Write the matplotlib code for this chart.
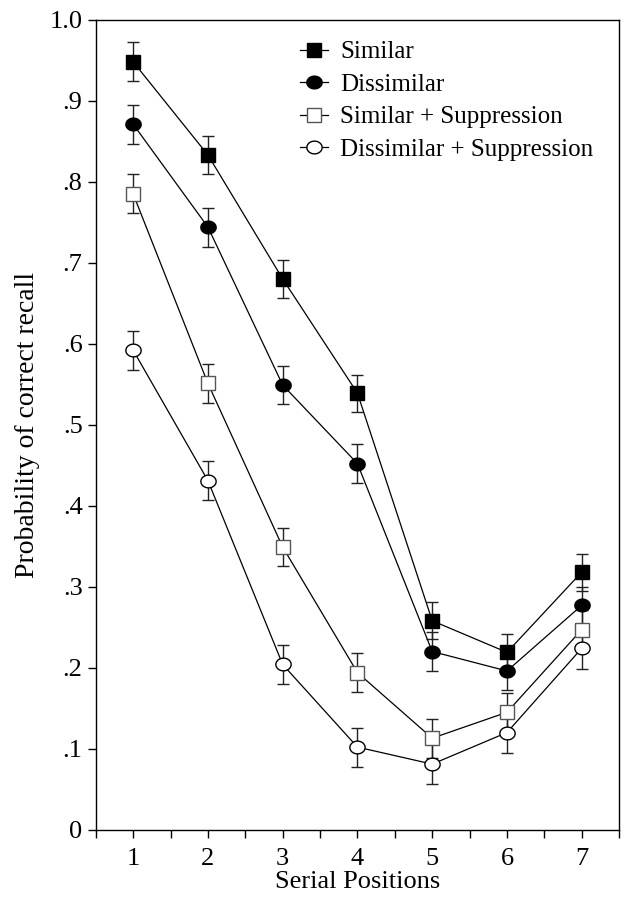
import numpy as np
import matplotlib
matplotlib.use("Agg")
import matplotlib.pyplot as plt
from matplotlib.path import Path
from matplotlib.ticker import MultipleLocator, FixedLocator

plt.rcParams['font.family'] = ['Liberation Serif', 'DejaVu Serif']
plt.rcParams['font.size'] = 18

positions = [1, 2, 3, 4, 5, 6, 7]

similar = [0.948, 0.833, 0.680, 0.539, 0.258, 0.219, 0.318]
dissimilar = [0.871, 0.744, 0.549, 0.452, 0.220, 0.196, 0.277]
similar_sup = [0.785, 0.551, 0.349, 0.194, 0.113, 0.145, 0.247]
dissimilar_sup = [0.592, 0.431, 0.204, 0.102, 0.081, 0.120, 0.224]

similar_err = [0.024, 0.023, 0.023, 0.023, 0.023, 0.023, 0.023]
dissimilar_err = [0.024, 0.024, 0.024, 0.024, 0.024, 0.024, 0.023]
similar_sup_err = [0.024, 0.024, 0.024, 0.024, 0.024, 0.024, 0.024]
dissimilar_sup_err = [0.024, 0.024, 0.024, 0.024, 0.025, 0.025, 0.025]

ytick_vals = [0, .1, .2, .3, .4, .5, .6, .7, .8, .9, 1.0]
ytick_labels = ['0', '.1', '.2', '.3', '.4', '.5', '.6', '.7', '.8', '.9', '1.0']

# slightly wide ellipse, the source picture is stretched sideways
t = np.linspace(0, 2 * np.pi, 60)
ellipse = Path(np.column_stack([1.2 * np.cos(t), np.sin(t)]), closed=True)

fig = plt.figure(figsize=(6.26, 8.97), dpi=100)
ax = fig.add_axes([0.153, 0.075, 0.836, 0.903])

series = [
    (similar, similar_err, 'Similar', 's', 'black', 'black', 9.5),
    (dissimilar, dissimilar_err, 'Dissimilar', ellipse, 'black', 'black', 11),
    (similar_sup, similar_sup_err, 'Similar + Suppression', 's', 'white', '#555555', 9.5),
    (dissimilar_sup, dissimilar_sup_err, 'Dissimilar + Suppression', ellipse, 'white', 'black', 11),
]

for vals, err, label, mk, fc, ec, ms in series:
    ax.errorbar(positions, vals, yerr=err, fmt='none', ecolor='#222222',
                elinewidth=1.0, capsize=4, capthick=1.0, zorder=2)
    ax.plot(positions, vals, color='black', lw=0.9, marker=mk, ms=ms,
            mfc=fc, mec=ec, mew=1.0, label=label, zorder=3)

ax.set_xlim(0.5, 7.5)
ax.set_ylim(0, 1.0)
ax.xaxis.set_major_locator(FixedLocator(positions))
ax.xaxis.set_minor_locator(MultipleLocator(0.5))
ax.set_yticks(ytick_vals)
ax.set_yticklabels(ytick_labels)
ax.tick_params(which='both', direction='out', length=6, width=1, labelsize=19)
ax.tick_params(axis='x', which='minor', length=6)
ax.tick_params(axis='x', pad=7)
for s in ax.spines.values():
    s.set_linewidth(1.0)

ax.set_xlabel('Serial Positions', fontsize=19, labelpad=1)
ax.set_ylabel('Probability of correct recall', fontsize=20, labelpad=7)

ax.legend(loc='upper left', bbox_to_anchor=(0.35, 1.0), frameon=False,
          handlelength=1.1, handletextpad=0.5, labelspacing=0.4, fontsize=18,
          borderaxespad=0.45)

fig.savefig('out.png', dpi=100)
